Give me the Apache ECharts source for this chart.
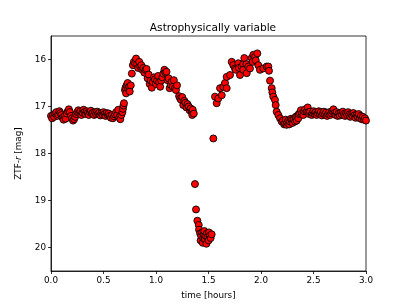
<!DOCTYPE html>
<html><head><meta charset="utf-8">
<script src="https://cdn.jsdelivr.net/npm/echarts@6/dist/echarts.min.js"></script>
<style>html,body{margin:0;padding:0;background:#fff}#c{width:407px;height:305px}</style>
</head><body><div id="c"></div>
<script>
const titleText = 'Astrophysically variable';
const xLabel = 'time [hours]';
const xTicks = [0, 0.5, 1, 1.5, 2, 2.5, 3];
const yTicks = [16, 17, 18, 19, 20];
const time = [
0.00,0.01,0.02,0.03,0.04,0.05,0.06,0.07,0.08,0.09,0.10,0.11,0.12,0.13,0.14,0.15,0.16,0.17,0.18,0.19,
0.20,0.21,0.22,0.23,0.24,0.25,0.26,0.27,0.28,0.29,0.30,0.31,0.32,0.33,0.34,0.35,0.36,0.37,0.38,0.39,
0.40,0.41,0.42,0.43,0.44,0.45,0.46,0.47,0.48,0.49,0.50,0.51,0.52,0.53,0.54,0.55,0.56,0.57,0.58,0.59,
0.60,0.61,0.62,0.63,0.64,0.65,0.66,0.67,0.68,
0.685,0.69,0.695,0.705,0.71,0.715,0.72,0.73,0.735,0.745,0.75,0.76,
0.77,0.78,0.79,0.80,0.81,0.82,0.83,0.84,0.85,0.86,0.87,0.88,0.89,0.90,0.91,0.92,0.93,0.94,0.95,0.96,
0.97,0.98,0.99,1.00,1.01,1.02,1.03,1.04,1.05,1.06,1.07,1.08,1.09,1.10,1.11,1.12,1.13,1.14,1.15,1.16,
1.17,1.18,1.19,1.20,
1.22,1.23,1.24,1.25,1.26,1.27,1.28,1.29,1.30,1.31,1.32,1.33,1.34,1.35,1.345,1.36,
1.371,1.381,1.394,1.407,1.41,1.42,1.425,1.43,1.44,1.445,1.45,1.455,1.46,1.465,1.47,1.48,1.485,1.49,1.50,1.505,1.51,1.52,1.53,
1.546,
1.562,1.578,1.593,1.610,1.626,1.641,1.657,1.673,1.673,1.705,1.721,1.736,1.752,1.76,1.784,1.79,1.80,1.816,1.83,1.831,1.841,1.86,1.864,1.879,1.895,
1.911,1.921,1.927,1.943,1.95,1.965,1.974,1.99,2.022,2.054,2.07,2.076,
2.086,2.102,2.108,2.117,2.133,2.14,2.149,2.165,2.181,2.197,
2.21,2.22,2.229,2.235,2.244,2.25,2.26,2.27,2.276,2.285,2.292,2.30,2.31,2.324,2.33,2.34,2.345,2.355,2.36,2.371,2.38,2.39,2.403,2.41,2.42,2.435,2.445,2.45,2.46,2.467,2.483,
2.49,2.50,2.51,2.52,2.53,2.54,2.55,2.56,2.57,2.58,2.59,2.60,2.61,2.62,2.63,2.64,2.65,2.66,2.67,2.68,2.69,
2.70,2.71,2.72,2.73,2.74,2.75,2.76,2.77,2.78,2.79,2.80,2.81,2.82,2.83,2.84,2.85,2.86,2.87,2.88,2.89,
2.90,2.91,2.92,2.93,2.94,2.95,2.96,2.97,2.98,2.99,3.00
];
const mag = [
17.20,17.25,17.18,17.22,17.15,17.12,17.20,17.17,17.10,17.14,17.18,17.24,17.28,17.20,17.26,17.15,17.10,17.06,17.12,17.20,
17.25,17.30,17.27,17.22,17.16,17.12,17.08,17.14,17.10,17.18,17.13,17.07,17.12,17.16,17.10,17.14,17.18,17.12,17.09,17.15,
17.13,17.18,17.12,17.16,17.11,17.15,17.13,17.19,17.14,17.17,17.12,17.16,17.20,17.14,17.18,17.15,17.20,17.24,17.18,17.25,
17.21,17.17,17.12,17.18,17.07,17.23,17.27,17.18,17.12,
17.05,16.98,16.93,16.65,16.60,16.72,16.55,16.50,16.62,16.58,16.68,16.55,
16.30,16.12,16.05,16.08,15.98,16.10,16.18,16.05,16.15,16.12,16.22,16.18,16.28,16.22,16.20,16.40,16.32,16.52,16.45,16.60,
16.48,16.38,16.42,16.52,16.45,16.35,16.48,16.58,16.45,16.38,16.30,16.22,16.28,16.26,16.44,16.40,16.61,16.54,16.47,16.58,
16.44,16.61,16.65,16.55,
16.78,16.83,16.86,16.80,16.97,16.88,16.92,17.02,16.95,17.00,17.08,17.04,17.11,17.07,17.18,17.15,
18.65,19.19,19.43,19.52,19.62,19.70,19.85,19.75,19.68,19.90,19.80,19.72,19.65,19.82,19.75,19.92,19.70,19.78,19.85,19.68,19.75,19.80,19.72,
17.68,
16.79,16.93,16.83,16.61,16.76,16.58,16.50,16.61,16.37,16.33,16.05,16.12,16.19,16.22,16.08,16.18,16.33,16.15,16.10,16.22,15.97,16.10,16.29,16.15,16.19,
15.97,16.05,15.90,15.94,16.02,15.87,16.12,16.22,16.19,16.15,16.15,16.24,
16.45,16.61,16.70,16.79,16.86,16.97,17.11,17.18,17.25,17.32,
17.30,17.38,17.36,17.28,17.39,17.34,17.30,17.38,17.32,17.26,17.29,17.35,17.28,17.32,17.22,17.30,17.20,17.25,17.16,17.14,17.08,17.15,17.18,17.10,17.06,17.11,17.02,17.12,17.16,17.11,17.18,
17.14,17.10,17.16,17.12,17.18,17.14,17.10,17.16,17.12,17.19,17.15,17.11,17.17,17.13,17.20,17.16,17.12,17.18,17.14,17.10,17.06,
17.14,17.18,17.12,17.20,17.15,17.19,17.13,17.17,17.11,17.16,17.20,17.14,17.18,17.12,17.17,17.22,17.16,17.20,17.14,17.19,
17.24,17.18,17.22,17.16,17.25,17.20,17.27,17.22,17.28,17.25,17.30
];
const points = time.map((t, i) => [t, mag[i]]);
const font = 'DejaVu Sans';
const chart = echarts.init(document.getElementById('c'), null, {renderer: 'canvas'});
chart.setOption({
  animation: false,
  backgroundColor: '#ffffff',
  title: {
    text: titleText, left: 208, top: 18, textAlign: 'center',
    textStyle: {fontFamily: font, fontSize: 10.6, fontWeight: 'normal', color: '#000'}
  },
  grid: {left: 51, right: 41, top: 36, bottom: 34, show: true, borderColor: '#000', borderWidth: 0.8, containLabel: false},
  xAxis: {
    type: 'value', min: 0, max: 3, interval: 0.5,
    name: xLabel, nameLocation: 'middle', nameGap: 20,
    nameTextStyle: {fontFamily: font, fontSize: 8.8, color: '#000'},
    axisLine: {show: true, lineStyle: {color: '#000', width: 0.8}},
    axisTick: {show: true, length: 3, lineStyle: {color: '#000', width: 0.8}},
    axisLabel: {fontFamily: font, fontSize: 8.8, color: '#000', margin: 5, formatter: v => v.toFixed(1)},
    splitLine: {show: false}
  },
  yAxis: {
    type: 'value', min: 15.5, max: 20.5, inverse: true,
    name: '{a|ZTF-}{i|r}{a| [mag]}', nameLocation: 'middle', nameGap: 28, nameRotate: 90,
    nameTextStyle: {fontFamily: font, fontSize: 8.8, color: '#000',
      rich: {a: {fontFamily: font, fontSize: 8.8, color: '#000'}, i: {fontFamily: font, fontSize: 8.8, color: '#000', fontStyle: 'italic'}}},
    axisLine: {show: true, lineStyle: {color: '#000', width: 0.8}},
    axisTick: {show: true, length: 3, customValues: yTicks, lineStyle: {color: '#000', width: 0.8}},
    axisLabel: {fontFamily: font, fontSize: 8.8, color: '#000', margin: 5, customValues: yTicks, formatter: v => String(v)},
    splitLine: {show: false}
  },
  series: [{
    type: 'scatter', data: points, symbol: 'circle', symbolSize: 7,
    itemStyle: {color: '#ff0000', borderColor: '#000', borderWidth: 0.9, opacity: 1}
  }]
});
</script></body></html>
